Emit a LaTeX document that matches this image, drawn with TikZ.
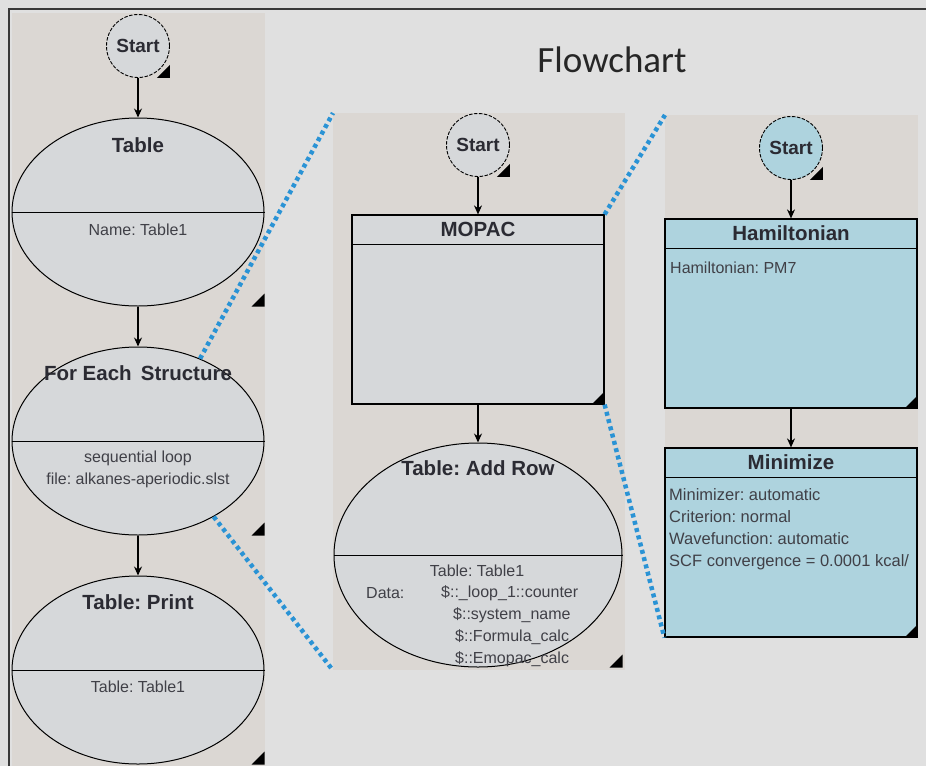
\documentclass[tikz,border=0pt]{standalone}
\usepackage{fontspec}
\setmainfont{Liberation Sans}
\newfontfamily\headfont{Carlito}
\usetikzlibrary{shapes.geometric,arrows.meta}
\frenchspacing

\definecolor{bggray}{HTML}{E0E0E0}
\definecolor{panel}{HTML}{DBD7D3}
\definecolor{boxgray}{HTML}{D6D8DA}
\definecolor{boxblue}{HTML}{AED3DE}
\definecolor{zoomblue}{HTML}{2A93D5}
\definecolor{ink}{HTML}{2B2B33}
\definecolor{framegray}{HTML}{3A3A3A}

% black corner mark of a node
\newcommand{\marker}[1]{%
  \path (#1.south -| #1.east) coordinate (#1-c);
  \fill ([xshift=-13pt]#1-c) -- (#1-c) -- ([yshift=13pt]#1-c) -- cycle;}

\begin{document}
\begin{tikzpicture}
  [x=1pt,y=-1pt,
   startnode/.style={circle, draw, line width=0.9pt, dash pattern=on 3.5pt off 1.5pt, fill=boxgray, minimum size=63pt, inner sep=0pt, text=ink, font=\fontsize{19}{19}\selectfont\bfseries},
   oval/.style={ellipse, draw, line width=1pt, fill=boxgray, minimum width=252pt, minimum height=188pt, inner sep=0pt},
   block/.style={rectangle, draw, line width=1.2pt, fill=boxgray, minimum width=252pt, minimum height=189pt, inner sep=0pt},
   panelbox/.style={fill=panel, inner sep=0pt, anchor=north west},
   head/.style={inner sep=0pt, text=ink, font=\fontsize{20.5}{22}\selectfont\bfseries},
   body/.style={inner sep=0pt, text=ink!90, font=\fontsize{16}{22}\selectfont},
   flow/.style={-{Stealth[length=9pt,width=8pt]}, line width=1.2pt},
   zoomline/.style={zoomblue, line width=4.5pt, dash pattern=on 4pt off 3.5pt}]

  \useasboundingbox (0,0) rectangle (926,766);
  \fill[bggray] (0,0) rectangle (926,766);
  \draw[line width=2pt, framegray] (9,766) -- (9,9) -- (926,9);

  % panels
  \node[panelbox, minimum width=253pt, minimum height=753pt] (lp) at (12,13) {};
  \node[panelbox, minimum width=292pt, minimum height=557pt] (mp) at (333,113) {};
  \node[panelbox, minimum width=253pt, minimum height=522pt] (rp) at (665,115) {};

  \node[font=\headfont\fontsize{37}{37}\selectfont, text=black!85] (title) at (612,60) {Flowchart};

  % left flow
  \node[startnode] (s1) at (138,46) {Start};
  \node[oval] (tab) at (138,212) {};
  \node[oval] (fe) at (138,441) {};
  \node[oval] (pr) at (138,670) {};
  \foreach \e in {tab, fe, pr}
    \draw[line width=1pt] (\e.west) -- (\e.east);

  \node[head] (tabT) at (138,145) {Table};
  \node[body] (tabB) at (138,230) {Name: Table1};
  \node[head] (feT) at (138,373) {For Each\, Structure};
  \node[body, align=center] (feB) at (138,469) {sequential loop\\file: alkanes-aperiodic.slst};
  \node[head] (prT) at (138,602) {Table: Print};
  \node[body] (prB) at (138,687) {Table: Table1};

  % middle flow
  \node[startnode] (s2) at (478,145) {Start};
  \node[block] (mopac) at (478,309.5) {};
  \node[oval, minimum width=288pt, minimum height=224pt] (addrow) at (478,555) {};
  \draw[line width=1.2pt] ([yshift=-30pt]mopac.north west) -- ([yshift=-30pt]mopac.north east);
  \draw[line width=1pt] (addrow.west) -- (addrow.east);

  \node[head] (mopacT) at (478,229) {MOPAC};
  \node[head] (addrowT) at (478,468) {Table: Add Row};
  \node[body] (ar0) at (477,571) {Table: Table1};
  \node[body, anchor=west] (arD) at (366,593) {Data:};
  \node[body, anchor=west] (ar1) at (441,593) {\$::\_loop\_1::counter};
  \node[body, anchor=west] (ar2) at (453,615) {\$::system\_name};
  \node[body, anchor=west] (ar3) at (455,637) {\$::Formula\_calc};
  \node[body, anchor=west] (ar4) at (455,659) {\$::Emopac\_calc};

  % right flow
  \node[startnode, fill=boxblue] (s3) at (791,148) {Start};
  \node[block, fill=boxblue] (ham) at (791,313.5) {};
  \node[block, fill=boxblue] (mini) at (791,542.5) {};
  \foreach \b in {ham, mini}
    \draw[line width=1.2pt] ([yshift=-30pt]\b.north west) -- ([yshift=-30pt]\b.north east);

  \node[head] (hamT) at (791,233) {Hamiltonian};
  \node[body, anchor=west] (hamB) at (670,268) {Hamiltonian: PM7};
  \node[head] (miniT) at (791,462) {Minimize};
  \node[body, font=\fontsize{16.5}{22}\selectfont, align=left, anchor=north west] (miniB) at (669,488)
    {Minimizer: automatic\\Criterion: normal\\Wavefunction: automatic\\SCF convergence = 0.0001 kcal/};

  \foreach \from/\to in {s1/tab, tab/fe, fe/pr, s2/mopac, mopac/addrow, s3/ham, ham/mini}
    \draw[flow] (\from) -- (\to);

  \foreach \n in {s1, tab, fe, pr, s2, mopac, addrow, s3, ham, mini}
    {\marker{\n}}

  % zoom lines
  \draw[zoomline] (fe.53) -- (mp.north west);
  \draw[zoomline] (fe.-45) -- (mp.south west);
  \draw[zoomline] (mopac.north east) -- (rp.north west);
  \draw[zoomline] (mopac.south east) -- (mini.south west);
\end{tikzpicture}
\end{document}
